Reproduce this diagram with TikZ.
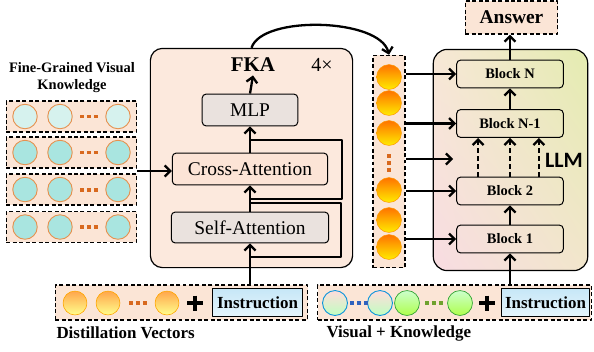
\documentclass[tikz,border=0pt]{standalone}
\usepackage{fontspec}
\setmainfont{Liberation Serif}
\newfontfamily\llmfont{Carlito}
\usetikzlibrary{arrows.meta,shadings}

\definecolor{peach}{HTML}{FBE5D6}
\definecolor{fkafill}{HTML}{FCE9DD}
\definecolor{grayfill}{HTML}{EAE2DE}
\definecolor{crossfill}{HTML}{FCE4D6}
\definecolor{cyanl}{HTML}{D6F2EE}
\definecolor{cyand}{HTML}{A9E5E0}
\definecolor{ring}{HTML}{E6914F}
\definecolor{dotorange}{HTML}{D8691E}
\definecolor{dotblue}{HTML}{2F62BE}
\definecolor{dotgreen}{HTML}{6FA22E}
\definecolor{llmul}{HTML}{F7E8D6}
\definecolor{llmur}{HTML}{E4ECB0}
\definecolor{llmll}{HTML}{F8DCE2}
\definecolor{llmlr}{HTML}{F2E6CC}
\definecolor{insttop}{HTML}{C6E7F7}
\definecolor{instbot}{HTML}{E6F5FC}

\tikzset{
  arr/.style={-{Straight Barb[length=5.5pt,width=11pt]},line width=2.3pt},
  res/.style={line width=1.3pt},
  dbox/.style={draw,fill=peach,line width=1.3pt,dash pattern=on 4pt off 2.5pt,inner sep=0},
  blk/.style={draw,rounded corners=4pt,line width=1pt,inner sep=0,font=\fontsize{19.5}{22}\selectfont},
  bblk/.style={draw,rounded corners=4pt,line width=1pt,inner sep=0,minimum width=107,minimum height=28,font=\fontsize{14.5}{17}\selectfont\bfseries},
  kv/.style={circle,draw=ring,line width=0.9pt,inner sep=0,minimum size=24.6},
  ball/.style={circle,draw=orange!80!yellow,line width=0.5pt,inner sep=0,minimum size=25,top color=orange!90!red,bottom color=yellow!85!orange},
  dball/.style={circle,draw=orange!70!yellow,line width=0.6pt,inner sep=0,minimum size=24,top color=orange!70,bottom color=yellow!45},
  vball/.style={circle,draw=cyan!80!blue,line width=0.9pt,inner sep=0,minimum size=25,top color=pink!55,bottom color=green!25},
  gball/.style={circle,draw=green!55!black!80,line width=0.7pt,inner sep=0,minimum size=25,top color=green!20,bottom color=green!45!yellow!70},
  odots/.style={dotorange,line width=4pt,dash pattern=on 4pt off 3pt},
  plus/.style={line width=3.5pt},
  instr/.style={draw,line width=1pt,inner sep=0,top color=insttop,bottom color=instbot,font=\fontsize{17}{20}\selectfont\bfseries},
  lab/.style={font=\fontsize{17}{20}\selectfont\bfseries}
}

\begin{document}
\begin{tikzpicture}[x=1bp,y=-1bp,line join=round]
\useasboundingbox (0,0) rectangle (594,351);

% fine-grained visual knowledge
\node[font=\fontsize{14.5}{17}\selectfont\bfseries,align=center] (fgtitle) at (72,78) {Fine-Grained Visual\\Knowledge};
\foreach \r/\y/\c in {1/116.5/cyanl,2/152.5/cyand,3/189.5/cyand,4/227/cyand}{
  \node[dbox,minimum width=131,minimum height=31] (row\r) at (71.5,\y) {};
  \foreach \i/\x in {1/25,2/60,3/118}
    \node[kv,fill=\c] (row\r c\i) at (\x,\y) {};
  \draw[odots] (80,\y) -- (98,\y);
}
\coordinate (kvout) at (137,171);

% FKA
\node[draw,fill=fkafill,rounded corners=12pt,line width=1.2pt,minimum width=203,minimum height=220] (fkabox) at (251.5,158) {};
\node[font=\fontsize{21}{24}\selectfont\bfseries] (fka) at (253,65) {FKA};
\node[font=\fontsize{20}{24}\selectfont] (rep) at (322,65) {4×};
\node[blk,fill=grayfill,minimum width=96,minimum height=32] (mlp) at (250,110) {MLP};
\node[blk,fill=crossfill,minimum width=156,minimum height=32] (ca) at (250,169) {Cross-Attention};
\node[blk,fill=grayfill,minimum width=158,minimum height=31] (sa) at (250,227.5) {Self-Attention};
\coordinate (res1a) at (250,140);
\coordinate (res1b) at (250,199);
\coordinate (res2a) at (250,203);
\coordinate (res2b) at (250,257);
\draw[res] (res1a) -- (342,140) -- (342,199) -- (res1b);
\draw[res] (res2a) -- (341,203) -- (341,257) -- (res2b);
\draw[arr] (sa.north) -- (ca.south);
\draw[arr] (ca.north) -- (mlp.south);
\draw[arr] (mlp.north) -- (fka.south);
\draw[arr] (kvout) -- (kvout -| ca.west);

% distillation vectors
\node[dbox,minimum width=253,minimum height=35] (dv) at (181.5,302.5) {};
\foreach \i/\x in {1/75,2/108,3/167}
  \node[dball] (dv\i) at (\x,303) {};
\draw[odots] (129,303) -- (147,303);
\draw[plus] (187,303) -- (203,303) (195,295.5) -- (195,310.5);
\node[instr,minimum width=91,minimum height=29] (ins1) at (257.5,302.5) {Instruction};
\node[lab,anchor=west] (dvlab) at (53,333) {Distillation Vectors};
\draw[arr] (sa.south |- dv.north) -- (sa.south);

% token column
\node[dbox,minimum width=32,minimum height=213] (col) at (389,161.5) {};
\foreach \i/\y in {1/77,2/103,3/133,4/190,5/220,6/247}
  \node[ball] (tok\i) at (389,\y) {};
\draw[odots] (389,154) -- (389,174);
\draw[arr] (fkabox.north) .. controls (262,15) and (380,18) .. (col.north);

% LLM
\node[draw,rounded corners=14pt,line width=1.2pt,minimum width=155,minimum height=222,
  upper left=llmul,upper right=llmur,lower left=llmll,lower right=llmlr] (llm) at (510.5,160) {};
\node[font=\llmfont\bfseries\fontsize{22}{24}\selectfont] (llmlab) at (564,160) {LLM};
\node[bblk] (bn) at (510,74) {Block N};
\node[bblk] (bn1) at (510,123.5) {Block N-1};
\node[bblk] (b2) at (510,191) {Block 2};
\node[bblk] (b1) at (510,239) {Block 1};
\node[dbox,minimum width=93,minimum height=33,font=\fontsize{19.5}{22}\selectfont\bfseries] (ans) at (511.5,17.5) {Answer};
\draw[arr] (bn.north) -- (bn.north |- ans.south);
\draw[arr] (bn1.north) -- (bn.south);
\foreach \d in {-32,0,29}
  \draw[arr,dash pattern=on 5pt off 3pt] ([xshift=\d]b2.north) -- ([xshift=\d]bn1.south);
\draw[arr] (b1.north) -- (b2.south);
\foreach \b in {bn,bn1,b2,b1}
  \draw[arr] (\b.west -| col.east) -- (\b.west);
\coordinate (llmin) at (453,159);
\draw[arr] (llmin -| col.east) -- (llmin);

% visual + knowledge
\node[dbox,minimum width=275,minimum height=35] (vk) at (454.5,302.5) {};
\node[vball] (v1) at (335,303) {};
\node[vball] (v2) at (380,303) {};
\node[gball] (k1) at (407,303) {};
\node[gball] (k2) at (460,303) {};
\draw[odots,dotblue] (350,303) -- (368,303);
\draw[odots,dotgreen] (425,303) -- (443,303);
\draw[plus] (479,303) -- (495,303) (487,295.5) -- (487,310.5);
\node[instr,minimum width=89,minimum height=29] (ins2) at (545.5,302.5) {Instruction};
\node[lab,anchor=west] (vklab) at (323,333) {Visual + Knowledge};
\draw[arr] (b1.south |- vk.north) -- (b1.south);
\end{tikzpicture}
\end{document}
